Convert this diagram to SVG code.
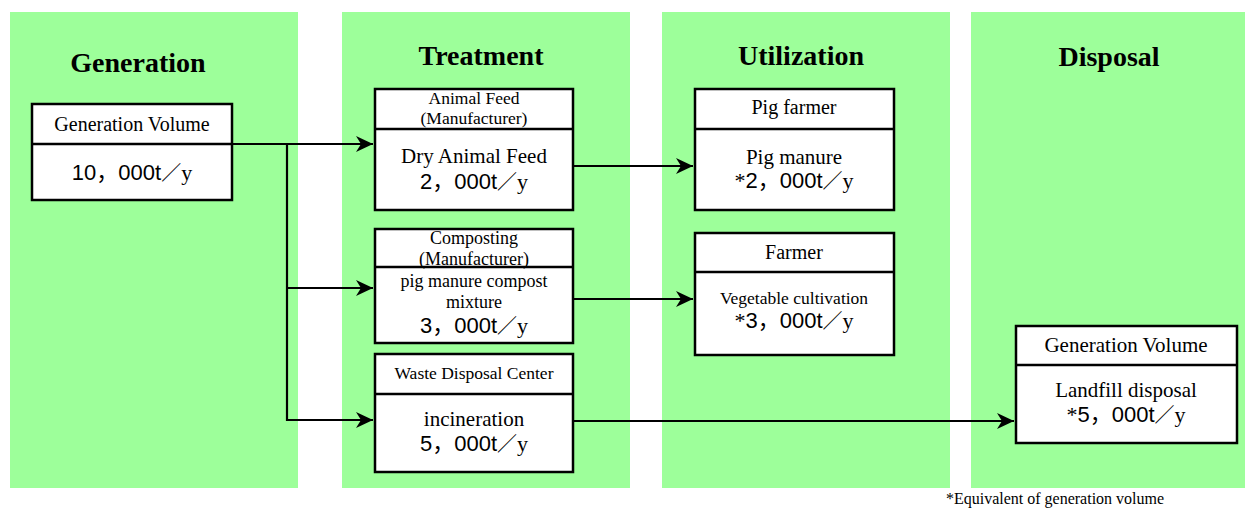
<svg xmlns="http://www.w3.org/2000/svg" width="1245" height="510" viewBox="0 0 1245 510">
<style>
.panel{fill:#9dff9a}
.box{fill:#fff;stroke:#000;stroke-width:2.5}
.div{stroke:#000;stroke-width:2.5}
.t{font-family:"Liberation Serif","DejaVu Serif",serif;fill:#000;text-anchor:middle}
.h{font-size:28px;font-weight:bold}
.s17{font-size:17.5px}
.s18{font-size:18px}
.s20{font-size:20px}
.s21{font-size:21px}
.v{font-size:22px}
.n{font-family:"Liberation Sans","Noto Sans CJK JP",sans-serif}
.cjk{font-family:"Noto Sans CJK JP",sans-serif;font-size:20px}
.con{fill:none;stroke:#000;stroke-width:2.2}
</style>
<defs>
<marker id="arr" markerWidth="18" markerHeight="16" refX="17" refY="8" orient="auto" markerUnits="userSpaceOnUse">
<path d="M0,0 L17,8 L0,16 L5,8 Z" fill="#000"/>
</marker>
</defs>
<g id="panels">
<rect class="panel" x="10" y="12" width="288" height="476"/>
<rect class="panel" x="342" y="12" width="288" height="476"/>
<rect class="panel" x="662" y="12" width="288" height="476"/>
<rect class="panel" x="971" y="12" width="274" height="476"/>
<text class="t h" x="138" y="72">Generation</text>
<text class="t h" x="481" y="65">Treatment</text>
<text class="t h" x="801" y="65">Utilization</text>
<text class="t h" x="1109" y="66">Disposal</text>
</g>
<g id="connectors">
<path class="con" d="M232,144 H373" marker-end="url(#arr)"/>
<path class="con" d="M287,144 V420 H373" marker-end="url(#arr)"/>
<path class="con" d="M287,288 H373" marker-end="url(#arr)"/>
<path class="con" d="M573,166 H693" marker-end="url(#arr)"/>
<path class="con" d="M573,299 H693" marker-end="url(#arr)"/>
<path class="con" d="M573,421 H1014" marker-end="url(#arr)"/>
</g>
<g id="gen">
<rect class="box" x="32" y="104" width="200" height="96"/>
<line class="div" x1="32" y1="144" x2="232" y2="144"/>
<text class="t s20" x="132" y="131">Generation Volume</text>
<text class="t v" x="132" y="180"><tspan class="n">10，000t</tspan><tspan class="cjk">／</tspan>y</text>
</g>
<g id="feed">
<rect class="box" x="375" y="89" width="198" height="121"/>
<line class="div" x1="375" y1="129" x2="573" y2="129"/>
<text class="t s17" x="474" y="104">Animal Feed</text>
<text class="t s17" x="474" y="124">(Manufacturer)</text>
<text class="t s21" x="474" y="163">Dry Animal Feed</text>
<text class="t v" x="474" y="189"><tspan class="n">2，000t</tspan><tspan class="cjk">／</tspan>y</text>
</g>
<g id="compost">
<rect class="box" x="375" y="229" width="198" height="114"/>
<text class="t s18" x="474" y="244">Composting</text>
<text class="t s18" x="474" y="265">(Manufacturer)</text>
<line class="div" x1="375" y1="267" x2="573" y2="267"/>
<text class="t s18" x="474" y="287">pig manure compost</text>
<text class="t s18" x="474" y="308">mixture</text>
<text class="t v" x="474" y="333"><tspan class="n">3，000t</tspan><tspan class="cjk">／</tspan>y</text>
</g>
<g id="incin">
<rect class="box" x="375" y="354" width="198" height="118"/>
<line class="div" x1="375" y1="394" x2="573" y2="394"/>
<text class="t s17" x="474" y="379">Waste Disposal Center</text>
<text class="t s21" x="474" y="426">incineration</text>
<text class="t v" x="474" y="451"><tspan class="n">5，000t</tspan><tspan class="cjk">／</tspan>y</text>
</g>
<g id="pig">
<rect class="box" x="695" y="89" width="199" height="121"/>
<line class="div" x1="695" y1="129" x2="894" y2="129"/>
<text class="t s20" x="794" y="114">Pig farmer</text>
<text class="t s21" x="794" y="164">Pig manure</text>
<text class="t v" x="794" y="188">*<tspan class="n">2，000t</tspan><tspan class="cjk">／</tspan>y</text>
</g>
<g id="farmer">
<rect class="box" x="695" y="233" width="199" height="122"/>
<line class="div" x1="695" y1="272" x2="894" y2="272"/>
<text class="t s20" x="794" y="259">Farmer</text>
<text class="t s17" x="794" y="304">Vegetable cultivation</text>
<text class="t v" x="794" y="328">*<tspan class="n">3，000t</tspan><tspan class="cjk">／</tspan>y</text>
</g>
<g id="landfill">
<rect class="box" x="1016" y="326" width="221" height="117"/>
<line class="div" x1="1016" y1="365" x2="1237" y2="365"/>
<text class="t s21" x="1126" y="352">Generation Volume</text>
<text class="t s21" x="1126" y="397">Landfill disposal</text>
<text class="t v" x="1126" y="422">*<tspan class="n">5，000t</tspan><tspan class="cjk">／</tspan>y</text>
</g>
<text class="t" style="font-size:16px" x="1055" y="504">*Equivalent of generation volume</text>
</svg>
